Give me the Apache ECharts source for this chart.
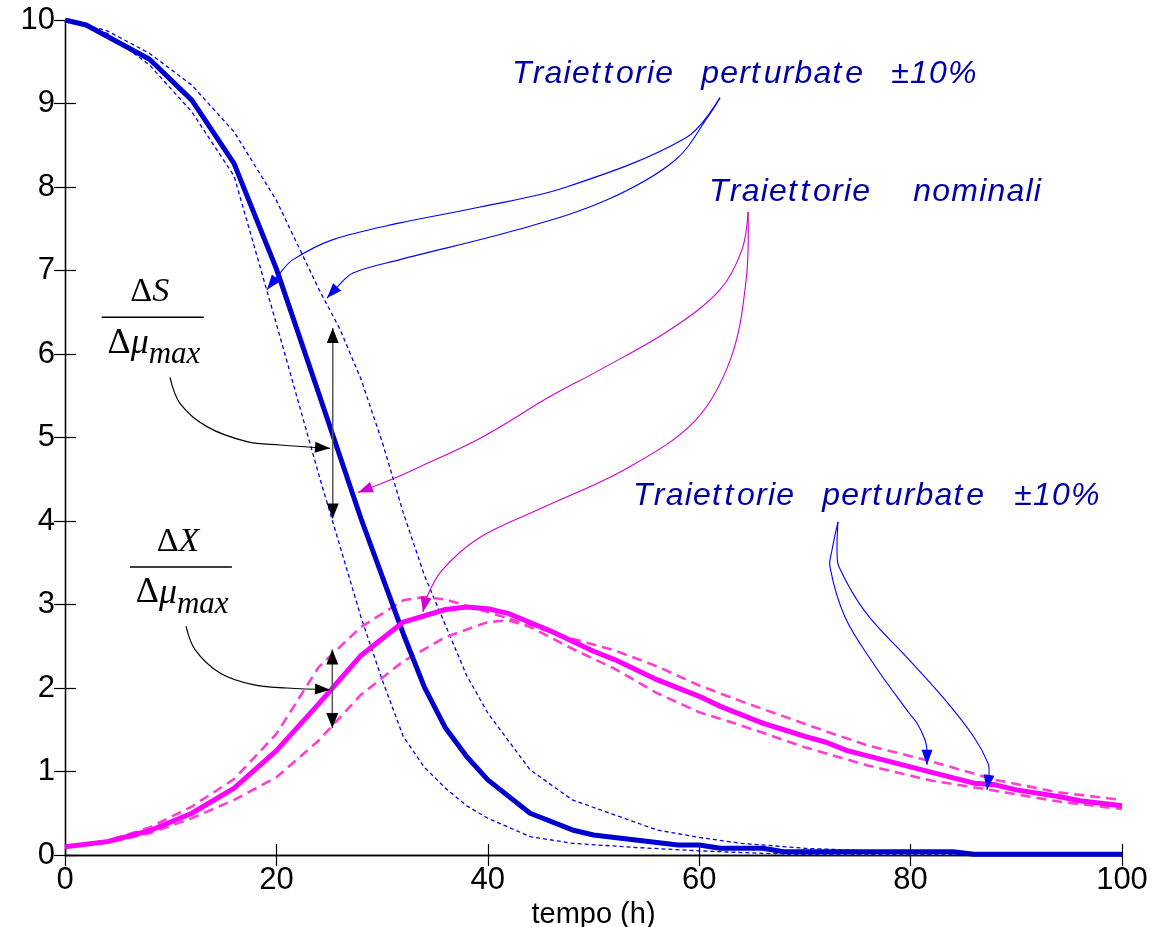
<!DOCTYPE html>
<html><head><meta charset="utf-8">
<script src="https://cdn.jsdelivr.net/npm/echarts@6/dist/echarts.min.js"></script>
<style>html,body{margin:0;padding:0;background:#fff}#c{width:1164px;height:927px}</style>
</head><body><div id="c"></div>
<script>
// ---------------- data ----------------
const tS_nom = [0,2,8,12,16,20,24,28,32,34,36,38,40,44,48,50,54,58,60,62,66,68,84,86,100];
const S_nom  = [10,9.94,9.53,9.04,8.28,7.02,5.53,4.03,2.65,2.01,1.52,1.18,0.90,0.50,0.30,0.24,0.18,0.12,0.12,0.08,0.08,0.04,0.04,0.01,0.01];

const tS_fast = [0,4,8,12,16,20,24,28,30,32,34,36,38,40,44,48,54,60,66,72,100];
const S_fast  = [10,9.84,9.46,8.90,8.13,6.36,4.56,2.85,2.10,1.42,1.05,0.80,0.59,0.44,0.22,0.14,0.09,0.05,0.02,0.0,0.0];

const tS_slow = [0,4,8,12,16,20,24,26,28,30,32,34,36,38,40,44,48,52,56,60,64,70,76,82,88,100];
const S_slow  = [10,9.87,9.60,9.22,8.66,7.84,6.78,6.30,5.70,4.95,4.10,3.35,2.75,2.15,1.70,1.02,0.66,0.48,0.30,0.21,0.14,0.08,0.05,0.03,0.01,0.0];

const tX_nom = [0,4,8,12,16,20,24,28,32,36,38,40,42,46,50,52,56,60,62,66,68,70,72,74,82,86,88,90,94,96,100];
const X_nom  = [0.10,0.16,0.29,0.50,0.80,1.25,1.81,2.39,2.79,2.94,2.97,2.95,2.89,2.68,2.44,2.34,2.10,1.90,1.78,1.58,1.50,1.42,1.35,1.25,0.99,0.86,0.84,0.78,0.70,0.65,0.59];

const tX_fast = [0,4,8,12,16,20,24,28,32,34,36,40,44,48,52,56,60,64,68,72,76,82,88,94,100];
const X_fast  = [0.10,0.17,0.33,0.58,0.91,1.45,2.25,2.73,3.05,3.09,3.06,2.91,2.75,2.59,2.45,2.26,2.03,1.84,1.66,1.48,1.31,1.12,0.90,0.75,0.66];

const tX_slow = [0,4,8,12,16,20,24,28,32,36,40,42,44,48,52,56,60,64,70,76,82,88,94,100];
const X_slow  = [0.10,0.15,0.26,0.44,0.66,0.93,1.37,1.92,2.32,2.61,2.79,2.81,2.73,2.47,2.23,1.94,1.71,1.55,1.29,1.07,0.89,0.77,0.64,0.55];

const xTickLabels = ['0','20','40','60','80','100'];
const xAxisTitle = 'tempo (h)';
const txtPerturbate = ['Traiettorie','perturbate','\u00b110%'];
const txtNominali = ['Traiettorie','nominali'];

// annotation anchors (data coordinates)
const annBlueTop1 = [[61.97,9.07],[58.75,8.59],[47.21,7.99],[39.26,7.76],[31.69,7.57],[25.35,7.37],[21.57,7.13],[20.34,6.97],[19.11,6.77]];
const annBlueTop2 = [[61.97,9.07],[60.93,8.86],[57.71,8.32],[51.18,7.84],[42.86,7.49],[31.69,7.13],[27.25,6.97],[25.73,6.80],[24.79,6.67]];
const annMagA = [[64.62,7.70],[64.05,7.25],[61.97,6.77],[57.24,6.29],[50.61,5.81],[45.88,5.49],[39.55,5.01],[33.59,4.65],[30.75,4.49],[27.72,4.34]];
const annMagB = [[64.62,7.70],[64.45,6.90],[63.0,5.95],[59.6,5.20],[53.0,4.62],[45.0,4.15],[39.2,3.80],[35.6,3.40],[34.1,3.05],[33.87,2.91]];
const annBlueLow1 = [[73.13,3.99],[72.56,3.65],[72.37,3.45],[73.79,2.85],[76.44,2.30],[79.85,1.70],[80.60,1.58],[81.36,1.38],[81.55,1.26],[81.55,1.08]];
const annBlueLow2 = [[73.13,3.99],[73.04,3.65],[73.23,3.45],[75.78,2.90],[79.85,2.34],[83.25,1.86],[86.00,1.41],[87.32,1.10],[87.42,0.96],[87.23,0.78]];
const annBlackS = [[9.93,5.72],[10.88,5.41],[13.43,5.13],[17.22,4.95],[20.34,4.91],[25.07,4.87]];
const annBlackX = [[11.45,2.74],[12.30,2.46],[14.66,2.18],[17.79,2.04],[21.00,2.00],[25.07,1.98]];
const dblS = [[25.33,6.31],[25.33,4.03]];
const dblX = [[25.29,2.46],[25.29,1.52]];
const txtAnchors = { top:[42.29,9.22], nom:[60.93,7.81], low:[53.74,4.16] };
const fracS = { c:[8.30,6.44], num:'S' };
const fracX = { c:[10.97,3.45], num:'X' };

// ---------------- chart ----------------
const zip = (a,b) => a.map((v,i)=>[v,b[i]]);
const chart = echarts.init(document.getElementById('c'), null, {renderer:'canvas'});
const SANS = 'Liberation Sans, Arial, Helvetica, sans-serif';
const SERIF = 'Liberation Serif, Times New Roman, serif';
const axCommon = {
  axisLine:{show:true, lineStyle:{color:'#000', width:1.3}},
  axisTick:{show:true, inside:true, length:11, lineStyle:{color:'#000', width:1.2}},
  splitLine:{show:false}
};
const option = {
  animation:false,
  backgroundColor:'#fff',
  grid:{left:65, right:42, top:20, bottom:72, containLabel:false, outerBoundsMode:'none'},
  xAxis:[
    Object.assign({type:'value', min:0, max:100, interval:20, position:'bottom',
      axisLabel:{color:'#000', fontSize:31, fontFamily:SANS, margin:10,
        formatter:(v)=>xTickLabels[Math.round(v/20)]},
      name:xAxisTitle, nameLocation:'middle', nameGap:35,
      nameTextStyle:{color:'#000', fontSize:29, fontFamily:SANS}}, axCommon),
    Object.assign({type:'value', min:0, max:100, interval:20, position:'top',
      axisLabel:{show:false}}, axCommon)
  ],
  yAxis:[
    Object.assign({type:'value', min:0, max:10, interval:1, position:'left',
      axisLabel:{color:'#000', fontSize:31, fontFamily:SANS, margin:10}}, axCommon),
    Object.assign({type:'value', min:0, max:10, interval:1, position:'right',
      axisLabel:{show:false}}, axCommon)
  ],
  series:[
    {type:'line', data:zip(tS_fast,S_fast), showSymbol:false, lineStyle:{color:'#0000ee', width:1.3, type:[4,3]}, z:2},
    {type:'line', data:zip(tS_slow,S_slow), showSymbol:false, lineStyle:{color:'#0000ee', width:1.3, type:[4,3]}, z:2},
    {type:'line', data:zip(tX_fast,X_fast), showSymbol:false, lineStyle:{color:'#ff3fcf', width:2.6, type:[10,6]}, z:3},
    {type:'line', data:zip(tX_slow,X_slow), showSymbol:false, lineStyle:{color:'#ff3fcf', width:2.6, type:[10,6]}, z:3},
    {type:'line', data:zip(tS_nom,S_nom), showSymbol:false, lineStyle:{color:'#0000cc', width:5}, z:4},
    {type:'line', data:zip(tX_nom,X_nom), showSymbol:false, lineStyle:{color:'#ff00ff', width:5}, z:5}
  ]
};
chart.setOption(option);

const P = (p) => chart.convertToPixel({xAxisIndex:0, yAxisIndex:0}, p);
function head(tip, from, len, hw, color){
  const dx=tip[0]-from[0], dy=tip[1]-from[1], L=Math.hypot(dx,dy)||1, ux=dx/L, uy=dy/L;
  const bx=tip[0]-ux*len, by=tip[1]-uy*len;
  return {type:'polygon', z:100, shape:{points:[tip,[bx-uy*hw,by+ux*hw],[bx+uy*hw,by-ux*hw]]}, style:{fill:color, stroke:null}};
}
function curveArrow(pts, color, w){
  const px = pts.map(P);
  const tip = px[px.length-1], prev = px[px.length-2];
  return [
    {type:'polyline', z:99, shape:{points:px, smooth:0.35}, style:{stroke:color, lineWidth:w, fill:null}},
    head(tip, prev, 15, 5.5, color)
  ];
}
function dblArrow(pts, color){
  const a=P(pts[0]), b=P(pts[1]);
  return [
    {type:'line', z:99, shape:{x1:a[0],y1:a[1],x2:b[0],y2:b[1]}, style:{stroke:'#555', lineWidth:1.5}},
    head(a,b,15,6,color), head(b,a,15,6,color)
  ];
}
// spaced italic label (MATLAB-like letter spacing)
const TFS = 32;
const TFONT = 'italic '+TFS+'px "Liberation Sans", Arial, sans-serif';
const mctx = document.createElement('canvas').getContext('2d');
mctx.font = TFONT;
function spacedLabel(anchor, words, gaps){
  const p = P(anchor);
  const out = [];
  let x = p[0];
  const y = p[1]-0.35*TFS;
  words.forEach((w,wi)=>{
    for (const ch of w){
      out.push({type:'text', z:101, style:{x:x, y:y, text:ch, fill:'#0000a8', font:TFONT, align:'left', verticalAlign:'middle'}});
      x += mctx.measureText(ch).width + 1.2 + (ch==='t' ? 2.5 : 0);
    }
    if (wi < words.length-1) x += gaps[wi];
  });
  return out;
}
function fraction(f){
  const c = P(f.c);
  const cx=c[0], cy=c[1];
  return [
    {type:'line', z:101, shape:{x1:cx-51,y1:cy,x2:cx+51,y2:cy}, style:{stroke:'#000', lineWidth:1.6}},
    {type:'text', z:101, style:{x:cx-3, y:cy-14-0.33*34, text:'{d|\u0394}{i|'+f.num+'}', align:'center', verticalAlign:'middle',
      rich:{d:{fontFamily:SERIF, fontSize:34, fill:'#000'}, i:{fontFamily:SERIF, fontSize:34, fontStyle:'italic', fill:'#000'}}}},
    {type:'text', z:101, style:{x:cx-4, y:cy+38-0.33*36, text:'{d|\u0394}{i|\u03bc}', align:'right', verticalAlign:'middle',
      rich:{d:{fontFamily:SERIF, fontSize:36, fill:'#000'}, i:{fontFamily:SERIF, fontSize:36, fontStyle:'italic', fill:'#000'}}}},
    {type:'text', z:101, style:{x:cx-4, y:cy+48-0.33*31, text:'max', align:'left', verticalAlign:'middle',
      font:'italic 31px '+SERIF, fill:'#000'}}
  ];
}
let g = [];
g = g.concat(curveArrow(annBlueTop1,'#0000ff',1.1), curveArrow(annBlueTop2,'#0000ff',1.1));
g = g.concat(curveArrow(annMagA,'#d000d0',1.1), curveArrow(annMagB,'#d000d0',1.1));
g = g.concat(curveArrow(annBlueLow1,'#0000ff',1.1), curveArrow(annBlueLow2,'#0000ff',1.1));
g = g.concat(curveArrow(annBlackS,'#000',1.2), curveArrow(annBlackX,'#000',1.2));
g = g.concat(dblArrow(dblS,'#000'), dblArrow(dblX,'#000'));
g = g.concat(spacedLabel(txtAnchors.top, txtPerturbate, [27,27]));
g = g.concat(spacedLabel(txtAnchors.nom, txtNominali, [42]));
g = g.concat(spacedLabel(txtAnchors.low, txtPerturbate, [27,29]));
g = g.concat(fraction(fracS), fraction(fracX));
chart.setOption({graphic:{elements:g}});
</script></body></html>
